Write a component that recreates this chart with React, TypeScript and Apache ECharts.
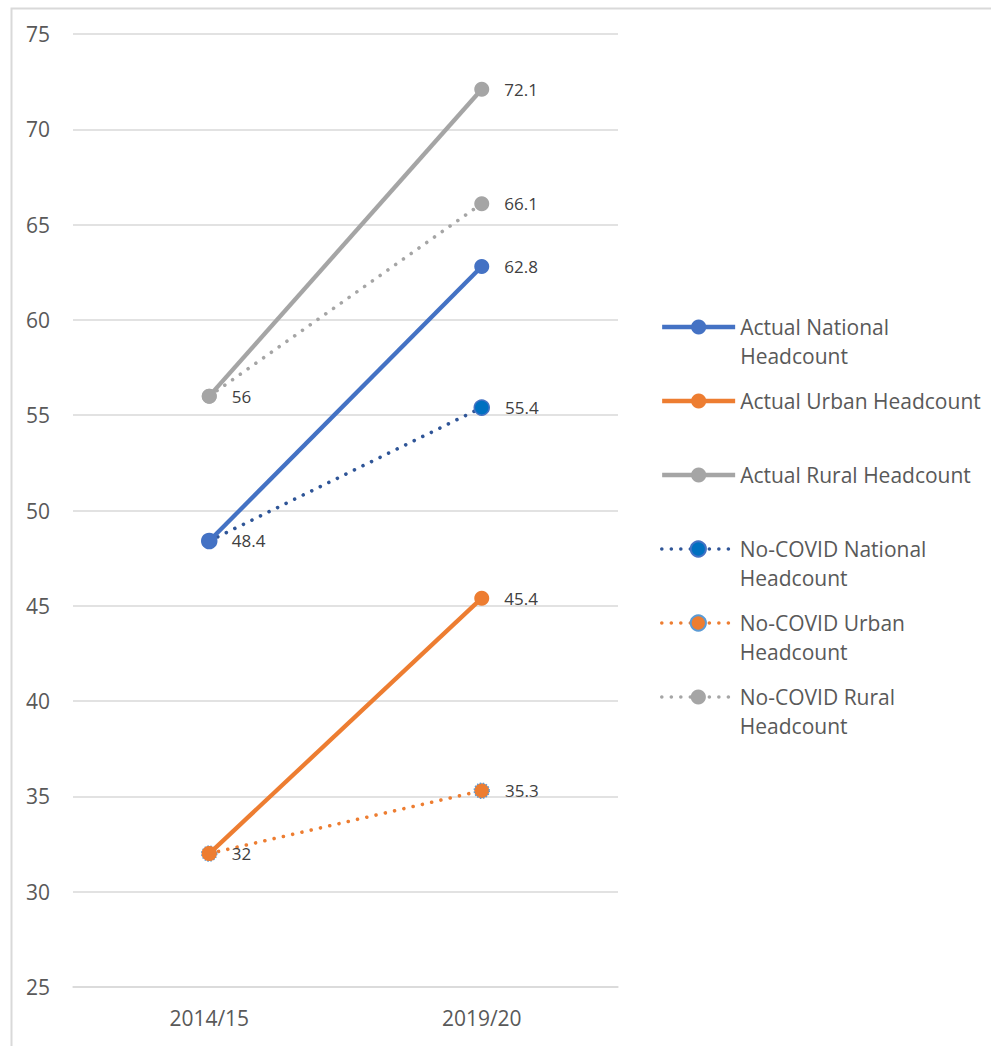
import React, { useEffect, useRef } from "react";
import * as echarts from "echarts";

// Poverty headcount by area, actual vs. no-COVID projection
const categories = ["2014/15", "2019/20"];

const actualNational = [48.4, 62.8];
const actualUrban = [32, 45.4];
const actualRural = [56, 72.1];
const noCovidNational = [48.4, 55.4];
const noCovidUrban = [32, 35.3];
const noCovidRural = [56, 66.1];

const yTicks = { min: 25, max: 75, interval: 5 };

const FONT = "'Open Sans', 'Liberation Sans', sans-serif";
const BLUE = "#4472C4";
const ORANGE = "#ED7D31";
const GRAY = "#A5A5A5";
const DOTS: number[] = [0.01, 9.5];
const SOLID_W = 4.3;
const DOT_W = 3.6;

const labelStyle = {
  show: true,
  position: "right" as const,
  distance: 15,
  fontFamily: FONT,
  fontSize: 17,
  color: "#404040",
};

// hide the label of the first point (the actual series already labels it)
const firstHidden = (values: number[]) =>
  values.map((v, i) => (i === 0 ? { value: v, label: { show: false } } : v));

type LegendEntry = { name: string; lines: string[]; iconY: number; width: number; dotted: boolean };
const legendEntries: LegendEntry[] = [
  { name: "Actual National Headcount", lines: ["Actual National", "Headcount"], iconY: 327, width: SOLID_W, dotted: false },
  { name: "Actual Urban Headcount", lines: ["Actual Urban Headcount"], iconY: 401, width: SOLID_W, dotted: false },
  { name: "Actual Rural Headcount", lines: ["Actual Rural Headcount"], iconY: 475, width: SOLID_W, dotted: false },
  { name: "No-COVID National Headcount", lines: ["No-COVID National", "Headcount"], iconY: 549, width: DOT_W, dotted: true },
  { name: "No-COVID Urban Headcount", lines: ["No-COVID Urban", "Headcount"], iconY: 623, width: DOT_W, dotted: true },
  { name: "No-COVID Rural Headcount", lines: ["No-COVID Rural", "Headcount"], iconY: 697, width: DOT_W, dotted: true },
];

const LINE_H = 29;
const ITEM_H = 19;

function buildLegends() {
  return legendEntries.map((e) => {
    const twoLines = e.lines.length > 1;
    // a leading blank line keeps the first line of a wrapped name level with the icon
    const text = twoLines ? "\u00a0\n" + e.lines.join("\n") : e.lines[0];
    const top = twoLines ? e.iconY - (LINE_H * 3) / 2 : e.iconY - LINE_H / 2;
    return {
      show: true,
      orient: "vertical" as const,
      left: 660,
      top,
      padding: 0,
      itemWidth: 73,
      itemHeight: ITEM_H,
      selectedMode: false,
      formatter: () => text,
      lineStyle: e.dotted
        ? { width: e.width, type: DOTS, cap: "round" }
        : { width: e.width },
      textStyle: {
        fontFamily: FONT,
        fontSize: 21,
        color: "#595959",
        lineHeight: LINE_H,
      },
      data: [e.name],
    };
  });
}

function buildOption(): echarts.EChartsOption {
  return {
    animation: false,
    backgroundColor: "#ffffff",
    textStyle: { fontFamily: FONT },
    graphic: [
      {
        type: "rect",
        left: 9,
        top: 6,
        shape: { x: 0, y: 0, width: 1200, height: 1200 },
        style: { fill: "none", stroke: "#D9D9D9", lineWidth: 2 },
        silent: true,
      },
    ],
    legend: buildLegends() as any,
    grid: { left: 73, right: 373, top: 34, bottom: 59, containLabel: false },
    xAxis: {
      type: "category",
      data: categories,
      boundaryGap: true,
      axisLine: { show: true, lineStyle: { color: "#D9D9D9", width: 1.5 } },
      axisTick: { show: false },
      axisLabel: { fontFamily: FONT, fontSize: 21, color: "#595959", margin: 20 },
    },
    yAxis: {
      type: "value",
      min: yTicks.min,
      max: yTicks.max,
      interval: yTicks.interval,
      axisLine: { show: false },
      axisTick: { show: false },
      axisLabel: { fontFamily: FONT, fontSize: 21, color: "#595959", margin: 23 },
      splitLine: { lineStyle: { color: "#D9D9D9", width: 1.5 } },
    },
    series: [
      {
        name: "No-COVID Rural Headcount",
        type: "line",
        data: firstHidden(noCovidRural),
        symbol: "circle",
        symbolSize: 15,
        itemStyle: { color: GRAY },
        lineStyle: { color: GRAY, width: DOT_W, type: DOTS, cap: "round" },
        label: labelStyle,
        z: 2,
      },
      {
        name: "No-COVID National Headcount",
        type: "line",
        data: firstHidden(noCovidNational),
        symbol: "circle",
        symbolSize: 15,
        itemStyle: { color: "#0070C0", borderColor: BLUE, borderWidth: 1.5 },
        lineStyle: { color: "#2F5597", width: DOT_W, type: DOTS, cap: "round" },
        label: labelStyle,
        z: 2,
      },
      {
        name: "No-COVID Urban Headcount",
        type: "line",
        data: firstHidden(noCovidUrban),
        symbol: "circle",
        symbolSize: 15,
        itemStyle: { color: ORANGE, borderColor: "#5B9BD5", borderWidth: 1.5, borderType: "dotted" },
        lineStyle: { color: ORANGE, width: DOT_W, type: DOTS, cap: "round" },
        label: labelStyle,
        z: 2,
      },
      {
        name: "Actual National Headcount",
        type: "line",
        data: actualNational,
        symbol: "circle",
        symbolSize: 15,
        itemStyle: { color: BLUE },
        lineStyle: { color: BLUE, width: SOLID_W },
        label: labelStyle,
        z: 3,
      },
      {
        name: "Actual Urban Headcount",
        type: "line",
        data: actualUrban,
        symbol: "circle",
        symbolSize: 15,
        itemStyle: { color: ORANGE },
        lineStyle: { color: ORANGE, width: SOLID_W },
        label: labelStyle,
        z: 3,
      },
      {
        name: "Actual Rural Headcount",
        type: "line",
        data: actualRural,
        symbol: "circle",
        symbolSize: 15,
        itemStyle: { color: GRAY },
        lineStyle: { color: GRAY, width: SOLID_W },
        label: labelStyle,
        z: 3,
      },
    ],
  };
}

export default function App() {
  const ref = useRef<HTMLDivElement>(null);
  useEffect(() => {
    if (!ref.current) return;
    const chart = echarts.init(ref.current, null, { renderer: "svg" });
    chart.setOption(buildOption());
    return () => chart.dispose();
  }, []);
  return (
    <div
      ref={ref}
      style={{ position: "absolute", left: 0, top: 0, width: 991, height: 1046, background: "#fff" }}
    />
  );
}
